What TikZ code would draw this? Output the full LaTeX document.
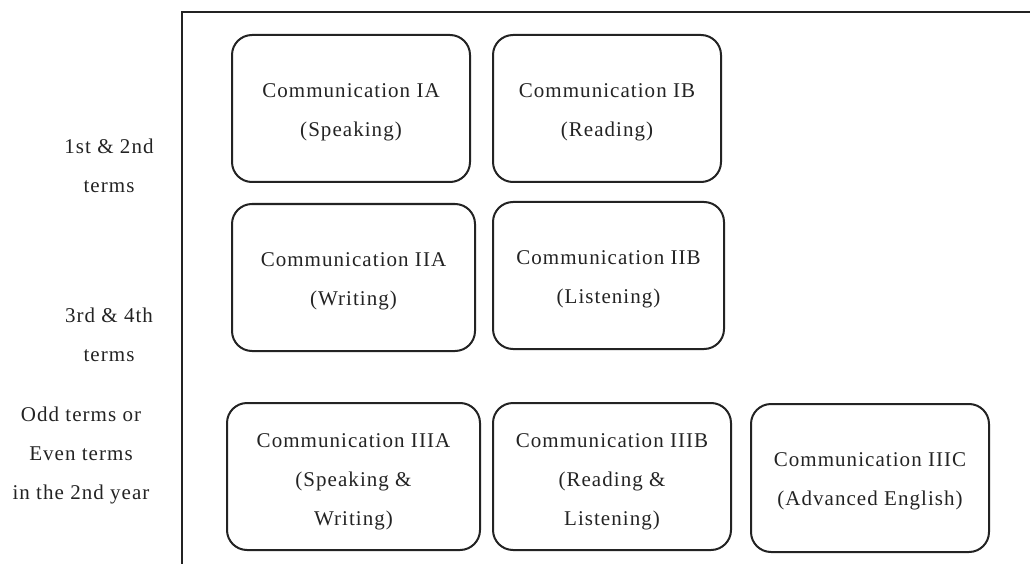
\documentclass[tikz,border=0pt]{standalone}
\usepackage{fontspec}
\setmainfont{Liberation Serif}[LetterSpace=5]
\definecolor{ink}{RGB}{35,35,35}
\newcommand\padtop[1]{\rule{0pt}{#1}}
\begin{document}
\begin{tikzpicture}[x=1pt,y=-1pt,
  every node/.append style={font=\fontsize{21}{39}\selectfont, text=ink},
  course/.style={draw=ink, line width=2pt, rounded corners=20pt, align=center, inner sep=0pt},
  termlabel/.style={align=center, inner sep=0pt}]
\useasboundingbox (0,0) rectangle (1030,564);
% frame
\coordinate (frameR) at (1030,12);
\coordinate (frameC) at (182,12);
\coordinate (frameB) at (182,564);
\draw[ink, line width=2pt] (frameR) -- (frameC) -- (frameB);
% term labels
\node[termlabel] (t1) at (109,166) {1st \& 2nd\\terms};
\node[termlabel] (t2) at (109,335) {3rd \& 4th\\terms};
\node[termlabel] (t3) at (81,455) {Odd terms or\\Even terms\\in the 2nd year};
% courses
\node[course, minimum width=238pt, minimum height=147pt] (ia) at (351,108.5) {\padtop{22pt}Communication IA\\(Speaking)};
\node[course, minimum width=228pt, minimum height=147pt] (ib) at (607,108.5) {\padtop{22pt}Communication IB\\(Reading)};
\node[course, minimum width=243pt, minimum height=147pt] (iia) at (353.5,277.5) {\padtop{22pt}Communication IIA\\(Writing)};
\node[course, minimum width=231pt, minimum height=147pt] (iib) at (608.5,275.5) {\padtop{22pt}Communication IIB\\(Listening)};
\node[course, minimum width=253pt, minimum height=147pt] (iiia) at (353.5,476.5) {\padtop{25pt}Communication IIIA\\(Speaking \&\\Writing)};
\node[course, minimum width=238pt, minimum height=147pt] (iiib) at (612,476.5) {\padtop{24pt}Communication IIIB\\(Reading \&\\Listening)};
\node[course, minimum width=238pt, minimum height=148pt] (iiic) at (870,478) {\padtop{21pt}Communication IIIC\\(Advanced English)};
\end{tikzpicture}
\end{document}
